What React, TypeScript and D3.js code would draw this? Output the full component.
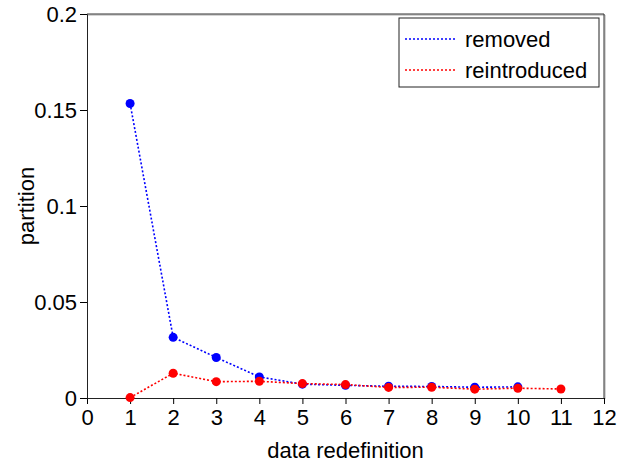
import React, { useEffect, useRef } from 'react';
import * as d3 from 'd3';

const steps = [1, 2, 3, 4, 5, 6, 7, 8, 9, 10, 11];
const removed = [0.1534, 0.0316, 0.0211, 0.011, 0.0072, 0.0066, 0.0061, 0.006, 0.0056, 0.0058];
const reintroduced = [0.0002, 0.0129, 0.0085, 0.0087, 0.0075, 0.007, 0.0055, 0.0056, 0.0046, 0.0051, 0.0047];
const xTicks = [0, 1, 2, 3, 4, 5, 6, 7, 8, 9, 10, 11, 12];
const yTicks = [0, 0.05, 0.1, 0.15, 0.2];
const seriesNames = ['removed', 'reintroduced'];
const seriesColors = ['#0000ff', '#ff0000'];

function App() {
  const chartRef = useRef<SVGSVGElement>(null);

  useEffect(() => {
    const width = 618;
    const height = 465;
    const margin = { top: 14, right: 14, bottom: 67, left: 87 };
    const font = "'Liberation Sans', Arial, sans-serif";
    const fs = 22;

    const svg = d3.select(chartRef.current);
    svg.selectAll('*').remove();

    const x = d3.scaleLinear().domain([0, 12]).range([margin.left, width - margin.right]);
    const y = d3.scaleLinear().domain([0, 0.2]).range([height - margin.bottom, margin.top]);

    // frame (top + right)
    svg.append('path')
      .attr('d', `M${x(0)},${y(0.2)}H${x(12)}V${y(0)}`)
      .attr('fill', 'none')
      .attr('stroke', '#aaa')
      .attr('stroke-width', 1)
      .attr('transform', 'translate(1,1)');
    svg.append('path')
      .attr('d', `M${x(0)},${y(0.2)}H${x(12)}V${y(0)}`)
      .attr('fill', 'none')
      .attr('stroke', '#333')
      .attr('stroke-width', 1);

    // x axis
    const xAxis = svg.append('g').attr('transform', `translate(0,${y(0)})`);
    xAxis.call(d3.axisBottom(x).tickValues(d3.range(0, 12.01, 0.5)).tickSize(4).tickFormat(() => ''))
      .call(g => g.select('.domain').remove());
    xAxis.call(d3.axisBottom(x).tickValues(xTicks).tickSize(6).tickPadding(5).tickFormat(d3.format('d')))
      .call(g => g.select('.domain').attr('stroke', '#222'))
      .call(g => g.selectAll('text').attr('font-family', font).attr('font-size', fs).attr('fill', '#000'));

    // y axis
    const yAxis = svg.append('g').attr('transform', `translate(${x(0)},0)`);
    yAxis.call(d3.axisLeft(y).tickValues(d3.range(0, 0.2001, 0.01)).tickSize(4).tickFormat(() => ''))
      .call(g => g.select('.domain').remove());
    yAxis.call(d3.axisLeft(y).tickValues(yTicks).tickSize(7).tickPadding(3).tickFormat(d => String(+d)))
      .call(g => g.select('.domain').attr('stroke', '#222'))
      .call(g => g.selectAll('text').attr('font-family', font).attr('font-size', fs).attr('fill', '#000'));

    // axis labels
    svg.append('text')
      .attr('x', (x(0) + x(12)) / 2)
      .attr('y', 458)
      .attr('text-anchor', 'middle')
      .attr('font-family', font)
      .attr('font-size', fs)
      .text('data redefinition');
    svg.append('text')
      .attr('transform', `translate(34,${(y(0) + y(0.2)) / 2}) rotate(-90)`)
      .attr('text-anchor', 'middle')
      .attr('font-family', font)
      .attr('font-size', fs)
      .text('partition');

    // series
    const allSeries = [removed, reintroduced];
    allSeries.forEach((vals, i) => {
      const pts = vals.map((v, j) => [steps[j], v] as [number, number]);
      const line = d3.line<[number, number]>().x(d => x(d[0])).y(d => y(d[1]));
      svg.append('path')
        .datum(pts)
        .attr('d', line)
        .attr('fill', 'none')
        .attr('stroke', seriesColors[i])
        .attr('stroke-width', 1.6)
        .attr('stroke-dasharray', '2 2');
      svg.append('g').selectAll('circle')
        .data(pts)
        .enter()
        .append('circle')
        .attr('cx', d => x(d[0]))
        .attr('cy', d => y(d[1]))
        .attr('r', 4.5)
        .attr('fill', seriesColors[i]);
    });

    // legend
    const lg = svg.append('g');
    lg.append('rect')
      .attr('x', 399).attr('y', 18).attr('width', 200).attr('height', 69)
      .attr('fill', '#fff').attr('stroke', '#222').attr('stroke-width', 1);
    seriesNames.forEach((name, i) => {
      const ly = 39 + i * 31;
      lg.append('line')
        .attr('x1', 405).attr('x2', 455).attr('y1', ly).attr('y2', ly)
        .attr('stroke', seriesColors[i])
        .attr('stroke-width', 1.6)
        .attr('stroke-dasharray', '2 2');
      lg.append('text')
        .attr('x', 465).attr('y', ly)
        .attr('dy', '0.35em')
        .attr('font-family', font)
        .attr('font-size', fs)
        .text(name);
    });
  }, []);

  return (
    <svg ref={chartRef} width={618} height={465}
      style={{ position: 'absolute', left: 0, top: 0, background: '#fff' }} />
  );
}

export default App;
